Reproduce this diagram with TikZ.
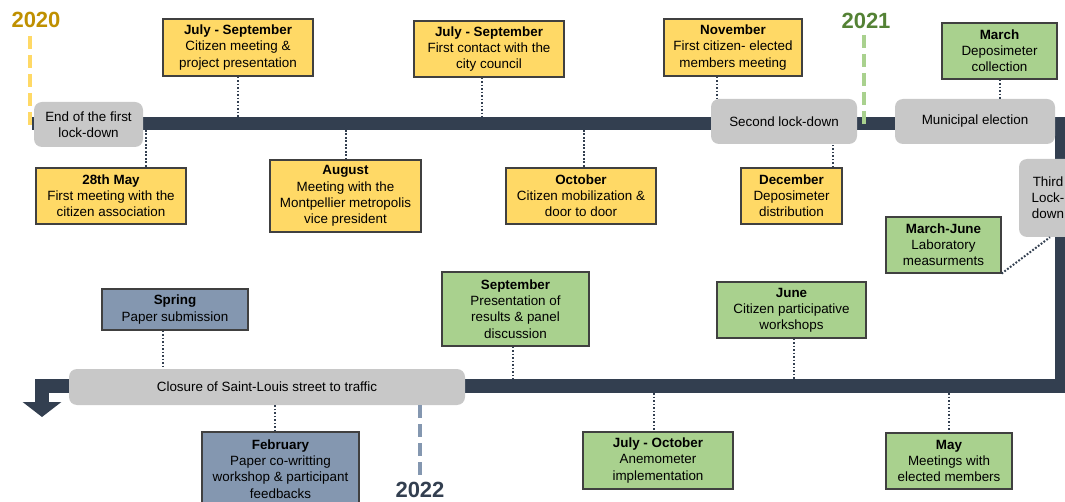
\documentclass[tikz,border=0pt]{standalone}
\usepackage{fontspec}
\setmainfont{Liberation Sans}
\usetikzlibrary{arrows.meta}
\definecolor{barblue}{RGB}{51,63,80}
\definecolor{phasegray}{RGB}{200,200,200}
\definecolor{evyellow}{RGB}{255,217,102}
\definecolor{evgreen}{RGB}{169,209,142}
\definecolor{evblue}{RGB}{132,151,176}
\definecolor{boxline}{RGB}{64,64,64}
\definecolor{gold}{RGB}{191,144,0}
\definecolor{darkgreen}{RGB}{84,130,53}
\tikzset{
    lab/.style={
        font=\fontsize{13.4}{16.2}\selectfont, align=center
    }
}

\begin{document}
\begin{tikzpicture}[x=1pt,y=-1pt, line join=miter]

\tikzset{
  box/.style={lab, draw=boxline, line width=1.1pt, inner sep=2pt, minimum width=150pt, minimum height=56pt},
  yel/.style={box, fill=evyellow},
  grn/.style={box, fill=evgreen},
  blu/.style={box, fill=evblue},
  phase/.style={lab, fill=phasegray, rounded corners=8pt, inner sep=2pt, minimum height=45pt},
  link/.style={draw=barblue, line width=2pt, dash pattern=on 1.8pt off 1.7pt},
  yrdash/.style={line width=4.5pt, dash pattern=on 13pt off 6pt},
  year/.style={font=\fontsize{22}{26}\selectfont\bfseries}
}

\clip (0,0) rectangle (1065,502);

% time line
\draw[barblue, line width=13.5pt, -{Triangle[width=38pt,length=15pt]}]
  (32,123.5) -- (1061.75,123.5) -- (1061.75,386) -- (42,386) -- (42,417);

% phases
\node[phase, minimum width=109pt] (lock1) at (88.5,124.5) {End of the first\\lock-down};
\node[phase, minimum width=146pt] (lock2) at (784,121.5) {Second lock-down};
\node[phase, minimum width=160pt] (elect) at (975,121.5) {Municipal election};
\node[phase, minimum width=58pt, minimum height=78pt] (lock3) at (1048,198) {Third\\Lock-\\down};
\node[phase, minimum width=396pt, minimum height=36pt] (closure) at (267,387) {Closure of Saint-Louis street to traffic};

% years
\node[year, text=gold] (y2020) at (36,20) {2020};
\node[year, text=darkgreen] (y2021) at (866,20.5) {2021};
\node[year, text=barblue] (y2022) at (420,489.5) {2022};
\coordinate (d20a) at (30,36);
\coordinate (d20b) at (30,130);
\coordinate (d21a) at (864,35);
\coordinate (d21b) at (864,130);
\coordinate (d22a) at (420,405);
\coordinate (d22b) at (420,476);
\draw[yrdash, evyellow] (d20a) -- (d20b);
\draw[yrdash, evgreen] (d21a) -- (d21b);
\draw[yrdash, evblue] (d22a) -- (d22b);

% 2020 events
\node[yel, minimum height=57pt] (citmeet) at (238,47.5) {\textbf{July - September}\\Citizen meeting \&\\project presentation};
\node[yel] (may) at (111,196) {\textbf{28th May}\\First meeting with the\\citizen association};
\node[yel, minimum width=151pt, minimum height=72pt] (aug) at (345.5,196) {\textbf{August}\\Meeting with the\\Montpellier metropolis\\vice president};
\node[yel] (council) at (489,49) {\textbf{July - September}\\First contact with the\\city council};
\node[yel] (oct) at (581,196) {\textbf{October}\\Citizen mobilization \&\\door to door};
\node[yel, minimum width=138pt, minimum height=57pt] (nov) at (733,47.5) {\textbf{November}\\First citizen- elected\\members meeting};
\node[yel, minimum width=101pt] (dec) at (791.5,196) {\textbf{December}\\Deposimeter\\distribution};

% 2021 events
\node[grn, minimum width=115pt] (mar) at (999.5,51) {\textbf{March}\\Deposimeter\\collection};
\node[grn, minimum width=115pt] (marjun) at (943.5,245) {\textbf{March-June}\\Laboratory\\measurments};
\node[grn, minimum width=147pt, minimum height=74pt] (sep) at (515.5,309) {\textbf{September}\\Presentation of\\results \& panel\\discussion};
\node[grn, minimum width=149pt] (jun) at (791.5,310) {\textbf{June}\\Citizen participative\\workshops};
\node[grn, minimum height=57pt] (julo) at (658,460.5) {\textbf{July - October}\\Anemometer\\implementation};
\node[grn, minimum width=126pt] (maymeet) at (949,461) {\textbf{May}\\Meetings with\\elected members};

% 2022 events
\node[blu, minimum width=146pt, minimum height=41pt] (spring) at (175,309.5) {\textbf{Spring}\\Paper submission};
\node[blu, minimum width=157pt, minimum height=74pt] (feb) at (280.5,469) {\textbf{February}\\Paper co-writting\\workshop \& participant\\feedbacks};

% anchor points on the time line
\coordinate (t1) at (238,117);
\coordinate (t2) at (146,130);
\coordinate (t3) at (346,130);
\coordinate (t4) at (482,117);
\coordinate (t5) at (584,130);
\coordinate (t6) at (513,380);
\coordinate (t7) at (794,380);
\coordinate (t8) at (654,393);
\coordinate (t9) at (949,393);

\draw[link] (t1 |- citmeet.south) -- (t1);
\draw[link] (t2) -- (t2 |- may.north);
\draw[link] (t3) -- (t3 |- aug.north);
\draw[link] (t4 |- council.south) -- (t4);
\draw[link] (t5) -- (t5 |- oct.north);
\draw[link] ([xshift=-16pt]nov.south) -- ([xshift=-16pt]nov.south |- lock2.north);
\draw[link] ([xshift=41.5pt]dec.north) -- ([xshift=41.5pt]dec.north |- lock2.south);
\draw[link] (mar.south) -- (mar.south |- elect.north);
\draw[link] (marjun.south east) -- ([xshift=2pt]lock3.south);
\draw[link] (t6 |- sep.south) -- (t6);
\draw[link] (t7 |- jun.south) -- (t7);
\draw[link] (t8) -- (t8 |- julo.north);
\draw[link] (t9) -- (maymeet.north);
\draw[link] ([xshift=-12pt]spring.south) -- ([xshift=-12pt]spring.south |- closure.north);
\draw[link] ([xshift=-5.5pt]feb.north) -- ([xshift=-5.5pt]feb.north |- closure.south);

\end{tikzpicture}
\end{document}
